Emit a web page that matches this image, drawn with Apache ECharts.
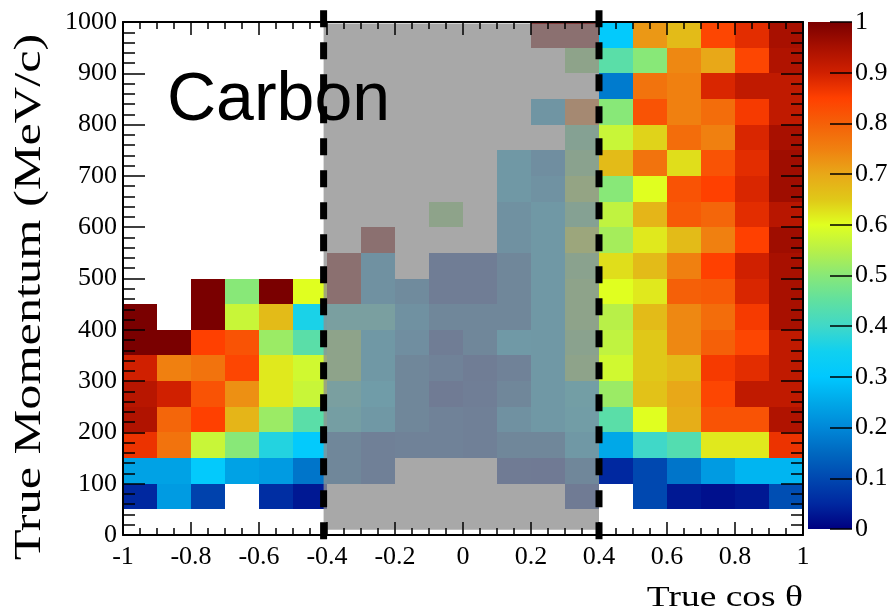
<!DOCTYPE html>
<html>
<head>
<meta charset="utf-8">
<script src="https://cdn.jsdelivr.net/npm/echarts@6/dist/echarts.min.js"></script>
<style>html,body{margin:0;padding:0;background:#fff}#c{width:891px;height:610px}</style>
</head>
<body>
<div id="c"></div>
<script>
// ---- Data ----
const N = null;
const cosLow = [-1,-0.9,-0.8,-0.7,-0.6,-0.5,-0.4,-0.3,-0.2,-0.1,0,0.1,0.2,0.3,0.4,0.5,0.6,0.7,0.8,0.9];
const cosWidth = 0.1;
const momLow = [0,50,100,150,200,250,300,350,400,450,500,550,600,650,700,750,800,850,900,950];
const momWidth = 50;
const xTickLabels = ['-1','-0.8','-0.6','-0.4','-0.2','0','0.2','0.4','0.6','0.8','1'];
const yTickLabels = ['0','100','200','300','400','500','600','700','800','900','1000'];
const zTickLabels = ['0','0.1','0.2','0.3','0.4','0.5','0.6','0.7','0.8','0.9','1'];

// efficiency per momentum bin (columns follow cosLow)
const eff_0_50     = [N,N,N,N,N,N, N,N,N,N,N,N,N,N, N,N,N,N,N,N];
const eff_50_100   = [0.05,0.23,0.09,N,0.06,0.03, N,N,N,N,N,N,N,0.07, N,0.10,0.03,0.02,0.03,0.11];
const eff_100_150  = [0.24,0.24,0.31,0.24,0.23,0.17, 0.15,0.10,N,N,N,0.07,0.06,0.15, 0.05,0.10,0.17,0.23,0.27,0.27];
const eff_150_200  = [0.87,0.77,0.57,0.50,0.37,0.31, 0.15,0.10,0.12,0.12,0.10,0.15,0.15,0.27, 0.25,0.40,0.43,0.62,0.62,0.87];
const eff_200_250  = [0.94,0.79,0.85,0.68,0.52,0.44, 0.36,0.27,0.15,0.12,0.10,0.22,0.27,0.33, 0.44,0.60,0.69,0.82,0.82,0.94];
const eff_250_300  = [0.93,0.90,0.82,0.73,0.62,0.57, 0.38,0.30,0.15,0.07,0.09,0.15,0.27,0.35, 0.52,0.66,0.70,0.84,0.92,0.92];
const eff_300_350  = [0.90,0.75,0.77,0.84,0.62,0.58, 0.50,0.27,0.15,0.12,0.08,0.12,0.27,0.50, 0.58,0.65,0.67,0.86,0.88,0.92];
const eff_350_400  = [1.00,1.00,0.85,0.82,0.52,0.44, 0.50,0.27,0.20,0.08,0.15,0.28,0.27,0.48, 0.56,0.65,0.74,0.80,0.84,0.92];
const eff_400_450  = [1.00,N,1.00,0.57,0.67,0.36, 0.38,0.38,0.22,0.15,0.15,0.15,0.27,0.50, 0.55,0.67,0.74,0.78,0.86,0.95];
const eff_450_500  = [N,N,1.00,0.50,1.00,0.60, 1.00,0.22,0.18,0.08,0.08,0.15,0.27,0.50, 0.60,0.62,0.80,0.81,0.89,0.95];
const eff_500_550  = [N,N,N,N,N,N, 1.00,0.22,N,0.08,0.08,0.15,0.27,0.48, 0.63,0.67,0.75,0.85,0.90,0.95];
const eff_550_600  = [N,N,N,N,N,N, N,1.00,N,N,N,0.22,0.27,0.57, 0.53,0.62,0.67,0.75,0.85,0.96];
const eff_600_650  = [N,N,N,N,N,N, N,N,N,0.50,N,0.22,0.27,0.45, 0.56,0.68,0.81,0.79,0.88,0.93];
const eff_650_700  = [N,N,N,N,N,N, N,N,N,N,N,0.27,0.23,0.53, 0.50,0.60,0.82,0.85,0.89,0.96];
const eff_700_750  = [N,N,N,N,N,N, N,N,N,N,N,0.27,0.20,0.48, 0.67,0.77,0.63,0.82,0.88,0.96];
const eff_750_800  = [N,N,N,N,N,N, N,N,N,N,N,N,N,0.45, 0.57,0.64,0.78,0.75,0.89,0.95];
const eff_800_850  = [N,N,N,N,N,N, N,N,N,N,N,N,0.25,0.77, 0.50,0.82,0.75,0.78,0.86,0.92];
const eff_850_900  = [N,N,N,N,N,N, N,N,N,N,N,N,N,N, 0.18,0.77,0.75,0.89,0.92,0.92];
const eff_900_950  = [N,N,N,N,N,N, N,N,N,N,N,N,N,0.50, 0.44,0.50,0.74,0.70,0.84,0.94];
const eff_950_1000 = [N,N,N,N,N,N, N,N,N,N,N,N,1.00,1.00, 0.31,0.72,0.67,0.84,0.88,0.95];

// shaded veto band and cut lines
const vetoCos = [-0.41, 0.40];
const vetoMom = [10, 997];
const cutCos = [-0.41, 0.40];
const cutMom = [-15, 1023];

const paletteColors = ['#000080','#0028a0','#0048b0','#0068c0','#0088d8','#00a8e8','#00c8ff','#10d0f0','#40d8c8','#60e0a0','#88e878','#b8f048','#e0ff20','#e0c818','#e8a818','#f08010','#f56008','#ff4000','#d02000','#a81000','#7a0000'];

// ---- Build ----
const effRows = [eff_0_50,eff_50_100,eff_100_150,eff_150_200,eff_200_250,eff_250_300,eff_300_350,eff_350_400,eff_400_450,eff_450_500,eff_500_550,eff_550_600,eff_600_650,eff_650_700,eff_700_750,eff_750_800,eff_800_850,eff_850_900,eff_900_950,eff_950_1000];
const cellData = [];
effRows.forEach((row, j) => row.forEach((v, i) => { if (v !== null) cellData.push([cosLow[i], momLow[j], v]); }));

const serif = 'Liberation Serif';
const tickStyle = {color:'#000', width:1.5};
function fmt(labels, vals){ return v => { const k = vals.findIndex(t => Math.abs(t - v) < 1e-6); return k >= 0 ? labels[k] : ''; }; }
const xVals = xTickLabels.map(Number), yVals = yTickLabels.map(Number), zVals = zTickLabels.map(Number);

const chart = echarts.init(document.getElementById('c'), null, {renderer:'canvas'});
const stops = paletteColors.map((c, k) => ({offset: k/(paletteColors.length-1), color: c}));

chart.setOption({
  animation: false,
  backgroundColor: '#fff',
  grid: [
    {left:123, top:22, width:680, height:513},
    {left:808, top:22, width:44, height:507}
  ],
  xAxis: [
    {type:'value', gridIndex:0, min:-1, max:1, interval:0.2, position:'bottom', z:10,
     axisLine:{show:true, onZero:false, lineStyle:{color:'#000', width:2}},
     axisTick:{show:true, inside:true, length:13, lineStyle:tickStyle},
     minorTick:{show:true, splitNumber:4, length:7, lineStyle:tickStyle},
     splitLine:{show:false}, minorSplitLine:{show:false},
     axisLabel:{show:true, fontFamily:serif, fontSize:26, color:'#000', margin:9, formatter: fmt(xTickLabels, xVals)}},
    {type:'value', gridIndex:0, min:-1, max:1, interval:0.2, position:'top', z:10,
     axisLine:{show:true, onZero:false, lineStyle:{color:'#000', width:2}},
     axisTick:{show:true, inside:true, length:13, lineStyle:tickStyle},
     minorTick:{show:true, splitNumber:4, length:7, lineStyle:tickStyle},
     splitLine:{show:false}, axisLabel:{show:false}},
    {type:'value', gridIndex:1, min:0, max:1, show:false}
  ],
  yAxis: [
    {type:'value', gridIndex:0, min:0, max:1000, interval:100, position:'left', z:10,
     axisLine:{show:true, onZero:false, lineStyle:{color:'#000', width:2}},
     axisTick:{show:true, inside:true, length:22, lineStyle:tickStyle},
     minorTick:{show:true, splitNumber:5, length:12, lineStyle:tickStyle},
     splitLine:{show:false},
     axisLabel:{show:true, fontFamily:serif, fontSize:26, color:'#000', margin:6, formatter: fmt(yTickLabels, yVals)}},
    {type:'value', gridIndex:0, min:0, max:1000, interval:100, position:'right', z:10,
     axisLine:{show:true, onZero:false, lineStyle:{color:'#000', width:2}},
     axisTick:{show:true, inside:true, length:22, lineStyle:tickStyle},
     minorTick:{show:true, splitNumber:5, length:12, lineStyle:tickStyle},
     splitLine:{show:false}, axisLabel:{show:false}},
    {type:'value', gridIndex:1, min:0, max:1, interval:0.1, position:'right', z:10,
     axisLine:{show:false, onZero:false},
     axisTick:{show:true, inside:true, length:22, lineStyle:tickStyle},
     splitLine:{show:false},
     axisLabel:{show:true, fontFamily:serif, fontSize:26, color:'#000', margin:3, formatter: fmt(zTickLabels, zVals)}}
  ],
  visualMap: {type:'continuous', min:0, max:1, dimension:2, seriesIndex:0, show:false, inRange:{color: paletteColors}},
  series: [
    {type:'custom', xAxisIndex:0, yAxisIndex:0, z:2, silent:true, data: cellData, encode:{x:0, y:1},
     renderItem: function(params, api){
       const x0 = api.value(0), y0 = api.value(1);
       const a = api.coord([x0, y0 + momWidth]);
       const b = api.coord([x0 + cosWidth, y0]);
       const l = Math.round(a[0]), t = Math.round(a[1]), r = Math.round(b[0]), bt = Math.round(b[1]);
       return {type:'rect', shape:{x:l, y:t, width:r-l, height:bt-t}, style:{fill: api.visual('color')}};
     }},
    {type:'custom', xAxisIndex:0, yAxisIndex:0, z:3, silent:true,
     data: [[vetoCos[0], vetoMom[0], vetoCos[1], vetoMom[1]]], encode:{x:[0,2], y:[1,3]},
     renderItem: function(params, api){
       const a = api.coord([api.value(0), api.value(3)]);
       const b = api.coord([api.value(2), api.value(1)]);
       return {type:'rect', shape:{x:a[0], y:a[1], width:b[0]-a[0], height:b[1]-a[1]}, style:{fill:'rgba(143,143,143,0.78)'}};
     }},
    {type:'custom', xAxisIndex:0, yAxisIndex:0, z:20, silent:true, clip:false,
     data: cutCos.map(c => [c, cutMom[0], cutMom[1]]), encode:{x:0},
     renderItem: function(params, api){
       const top = api.coord([api.value(0), api.value(2)]);
       const bot = api.coord([api.value(0), api.value(1)]);
       return {type:'line', shape:{x1:top[0], y1:top[1], x2:bot[0], y2:bot[1]}, style:{stroke:'#000', lineWidth:7, lineDash:[17,15], fill:null}};
     }},
    {type:'custom', xAxisIndex:2, yAxisIndex:2, z:2, silent:true, data:[[0,0,1,1]], encode:{x:[0,2], y:[1,3]},
     renderItem: function(params, api){
       const a = api.coord([0, 1]);
       const b = api.coord([1, 0]);
       return {type:'rect', shape:{x:a[0], y:a[1], width:b[0]-a[0], height:b[1]-a[1]},
               style:{fill: new echarts.graphic.LinearGradient(0, 1, 0, 0, stops)}};
     }}
  ],
  graphic: [
    {type:'text', x:167, y:101, z:100, style:{text:'Carbon', fontFamily:'Liberation Sans', fontSize:68, fill:'#000', align:'left', verticalAlign:'middle'}},
    {type:'text', x:803, y:598, z:100, scaleX:1.25, style:{text:'True cos θ', fontFamily:serif, fontSize:30, fill:'#000', align:'right', verticalAlign:'middle'}},
    {type:'text', x:30, y:297, z:100, rotation:Math.PI/2, scaleX:1.36, style:{text:'True Momentum (MeV/c)', fontFamily:serif, fontSize:37, fill:'#000', align:'center', verticalAlign:'middle'}}
  ]
});
</script>
</body>
</html>
